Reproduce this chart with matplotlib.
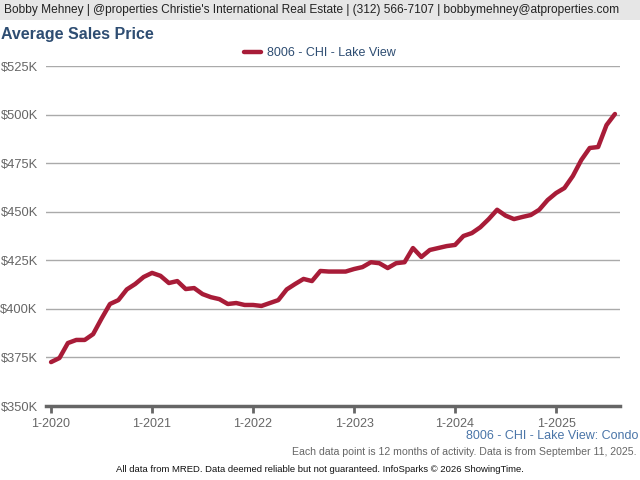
import matplotlib
matplotlib.use("Agg")
import matplotlib.pyplot as plt
from matplotlib.patches import Rectangle

plt.rcParams['font.family'] = ['Liberation Sans', 'DejaVu Sans']

# monthly values, 1-2020 .. 8-2025 (thousands of $)
prices = [372.6, 374.7, 382.4, 384.0, 384.0, 387.0, 395.0, 402.5, 404.5, 410.0,
          412.8, 416.4, 418.5, 417.0, 413.3, 414.3, 410.2, 410.7, 407.6, 406.0,
          405.0, 402.5, 403.0, 402.0, 402.0, 401.5, 403.0, 404.5, 410.0, 412.8,
          415.4, 414.3, 419.5, 419.2, 419.2, 419.2, 420.5, 421.5, 424.0, 423.5,
          421.0, 423.5, 424.0, 431.3, 426.7, 430.3, 431.3, 432.3, 432.9, 437.5,
          439.0, 442.0, 446.2, 451.0, 448.0, 446.2, 447.3, 448.3, 451.0, 456.0,
          459.6, 462.2, 468.4, 476.6, 482.8, 483.3, 494.6, 500.3]
months = list(range(len(prices)))
year_labels = ["1-2020", "1-2021", "1-2022", "1-2023", "1-2024", "1-2025"]
y_ticks = [350, 375, 400, 425, 450, 475, 500, 525]
series_name = "8006 - CHI - Lake View"

fig = plt.figure(figsize=(6.4, 4.8), dpi=100)

# header band
fig.patches.append(Rectangle((0, 1 - 20 / 480), 1, 20 / 480, transform=fig.transFigure,
                             facecolor="#e6e6e6", edgecolor="none"))
fig.text(0.006, 1 - 10 / 480, "Bobby Mehney | @properties Christie's International Real Estate | (312) 566-7107 | bobbymehney@atproperties.com",
         fontsize=8.6, color="#222222", va="center", ha="left")
fig.text(0.001, 1 - 35 / 480, "Average Sales Price", fontsize=11.5, fontweight="bold",
         color="#2e4d72", va="center", ha="left")

ax = fig.add_axes([46 / 640, 74 / 480, 574 / 640, 340 / 480])
ax.plot(months, prices, color="#a81c38", linewidth=3.2, label=series_name,
        solid_joinstyle="round", solid_capstyle="round")
ax.set_xlim(-0.6, 67.6)
ax.set_ylim(350, 525)
ax.set_yticks(y_ticks)
ax.set_yticklabels(["$%dK" % v for v in y_ticks])
ax.set_xticks([12 * i for i in range(len(year_labels))])
ax.set_xticklabels(year_labels)
ax.yaxis.grid(True, color="#aaaaaa", linewidth=1)
ax.set_axisbelow(True)
for s in ["top", "right", "left"]:
    ax.spines[s].set_visible(False)
ax.spines["bottom"].set_color("#666666")
ax.spines["bottom"].set_linewidth(2.5)
ax.tick_params(axis="y", length=0, labelsize=9.3, labelcolor="#666666", pad=6)
ax.tick_params(axis="x", length=5, width=2, color="#666666", labelsize=9,
               labelcolor="#666666", pad=3.5)

leg = fig.legend(loc="center", bbox_to_anchor=(0.5, 1 - 53 / 480), frameon=False,
                 fontsize=9, handlelength=1.3, handletextpad=0.5)
for t in leg.get_texts():
    t.set_color("#2e4d72")

fig.text(0.998, 1 - 436 / 480, "8006 - CHI - Lake View: Condo", fontsize=9,
         color="#4a75a8", ha="right", va="center")
fig.text(0.995, 1 - 452 / 480, "Each data point is 12 months of activity. Data is from September 11, 2025.",
         fontsize=7.6, color="#666666", ha="right", va="center")
fig.text(0.5, 1 - 470 / 480, "All data from MRED. Data deemed reliable but not guaranteed. InfoSparks \u00a9 2026 ShowingTime.",
         fontsize=6.8, color="#111111", ha="center", va="center")

fig.savefig("out.png", dpi=100)
